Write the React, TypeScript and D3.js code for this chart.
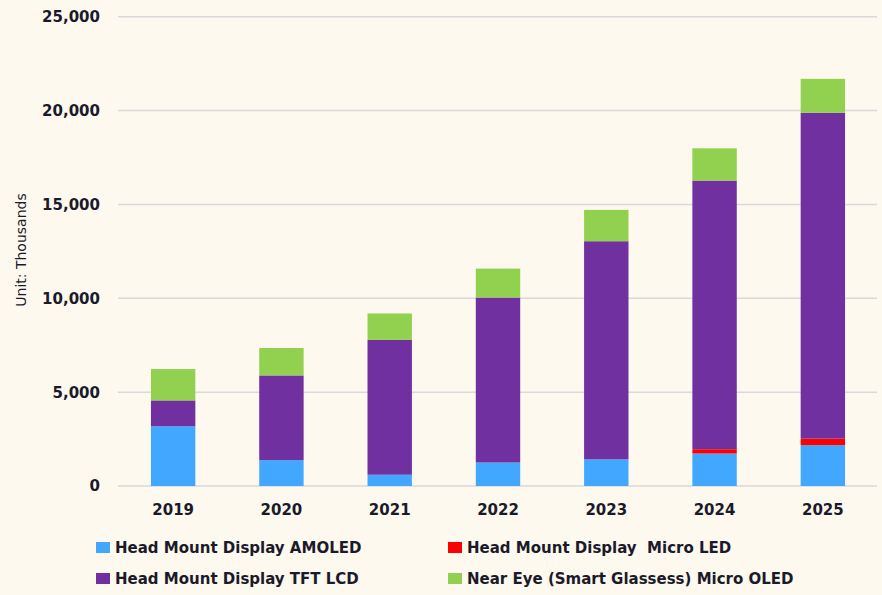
import React from "react";
import * as d3 from "d3";

const years = ["2019", "2020", "2021", "2022", "2023", "2024", "2025"];
const amoled = [3180, 1380, 600, 1250, 1420, 1730, 2180];
const microLed = [0, 0, 0, 0, 0, 230, 340];
const tftLcd = [1380, 4510, 7180, 8790, 11620, 14310, 17360];
const microOled = [1670, 1460, 1410, 1540, 1670, 1720, 1810];
const yTicks = [0, 5000, 10000, 15000, 20000, 25000];

const seriesNames = [
  "Head Mount Display AMOLED",
  "Head Mount Display  Micro LED",
  "Head Mount Display TFT LCD",
  "Near Eye (Smart Glassess) Micro OLED",
];
const seriesColors = ["#42a8ff", "#ff0000", "#7030a0", "#92d050"];

const W = 882;
const H = 595;
const FONT = "'DejaVu Sans', Verdana, sans-serif";

export default function App() {
  const table = years.map((y, i) => ({
    year: y,
    s0: amoled[i],
    s1: microLed[i],
    s2: tftLcd[i],
    s3: microOled[i],
  }));
  const keys = ["s0", "s1", "s2", "s3"];
  const stacked = d3.stack<any>().keys(keys)(table);

  const x = d3.scaleBand().domain(years).range([119, 877]).paddingInner(0.59).paddingOuter(0.295);
  const y = d3.scaleLinear().domain([0, 25000]).range([486, 16.7]);
  const fmt = d3.format(",");

  const legendPos = [
    { x: 96, y: 542 },
    { x: 448, y: 542 },
    { x: 96, y: 573 },
    { x: 448, y: 573 },
  ];

  return (
    <svg
      width={W}
      height={H}
      style={{ position: "fixed", left: 0, top: 0, background: "#fef9ee" }}
      fontFamily={FONT}
    >
      <rect x={0} y={0} width={W} height={H} fill="#fef9ee" />
      {yTicks.map((t) => (
        <g key={t}>
          <line x1={118} x2={877} y1={y(t)} y2={y(t)} stroke="#d9d9d9" strokeWidth={1.5} />
          <text
            x={100}
            y={y(t)}
            dy="0.36em"
            textAnchor="end"
            fontSize={15}
            fontWeight="bold"
            fill="#1a1a2a"
          >
            {fmt(t)}
          </text>
        </g>
      ))}
      {stacked.map((s, si) => (
        <g key={si} fill={seriesColors[si]}>
          {s.map((d, i) =>
            d[1] - d[0] > 0 ? (
              <rect
                key={i}
                x={x(years[i])}
                width={x.bandwidth()}
                y={y(d[1])}
                height={y(d[0]) - y(d[1])}
              />
            ) : null
          )}
        </g>
      ))}
      {years.map((yr) => (
        <text
          key={yr}
          x={(x(yr) as number) + x.bandwidth() / 2}
          y={515}
          textAnchor="middle"
          fontSize={15}
          fontWeight="bold"
          fill="#1a1a2a"
        >
          {yr}
        </text>
      ))}
      <text
        transform="translate(26,250) rotate(-90)"
        textAnchor="middle"
        fontSize={14}
        fill="#1a1a2a"
      >
        Unit: Thousands
      </text>
      {seriesNames.map((n, i) => (
        <g key={n}>
          <rect x={legendPos[i].x} y={legendPos[i].y} width={14} height={11} fill={seriesColors[i]} />
          <text
            x={legendPos[i].x + 19}
            y={legendPos[i].y + 11}
            fontSize={15}
            fontWeight="bold"
            fill="#1a1a2a"
            style={{ whiteSpace: "pre" }}
          >
            {n}
          </text>
        </g>
      ))}
    </svg>
  );
}
